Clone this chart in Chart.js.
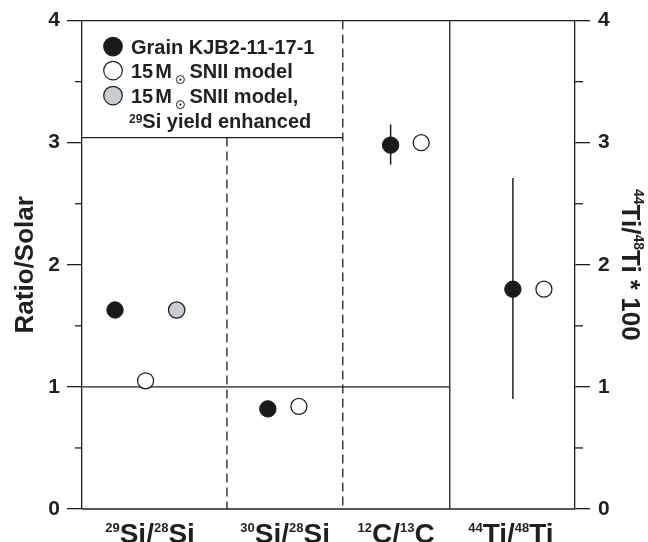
<!DOCTYPE html>
<html lang="en">
<head>
<meta charset="utf-8">
<title>Grain KJB2-11-17-1 ratios</title>
<style>
  html, body { margin: 0; padding: 0; background: #fff; }
  #wrap { width: 648px; height: 542px; }
</style>
</head>
<body>
<div id="wrap"><canvas id="myChart" width="648" height="542"></canvas></div>
<script src="https://cdn.jsdelivr.net/npm/chart.js"></script>
<script>
// values (ratio / solar; Ti panel is 44Ti/48Ti * 100)
const categories = ['29Si/28Si', '30Si/28Si', '12C/13C', '44Ti/48Ti'];
const grainRatio = [1.63, 0.82, 2.98, 1.80];
const grainErrLow = [null, null, 2.82, 0.90];
const grainErrHigh = [null, null, 3.15, 2.71];
const modelRatio = [1.05, 0.84, 3.00, 1.80];
const enhancedRatio = [1.63, null, null, null];
const yTicks = [0, 1, 2, 3, 4];

// where things sit across the plot (x runs 0..100)
const slot = {
  edges: [29.4, 52.9, 74.6],
  dashed: [true, true, false],
  grain: [6.7, 37.7, 62.6, 87.4],
  model: [12.9, 44.0, 68.8, 93.7],
  enhanced: [19.2, null, null, null],
  label: [13.8, 41.2, 63.7, 87.0]
};

const ink = '#231f20';
const fam = '"Liberation Sans", Arial, Helvetica, sans-serif';
const tickFont = { family: fam, size: 21, weight: 'bold' };

const pts = (xs, ys) => ys.map((v, i) => v == null ? null : { x: xs[i], y: v }).filter(Boolean);

// '29Si/28Si' -> superscript mass numbers
function parseRuns(str) {
  return str.split(/(\d+(?=[A-Z]))/).map((t, i) => ({ t, sup: i % 2 === 1 })).filter(r => r.t);
}

function drawRuns(ctx, runs, x, y, mainFont, supFont, rise, align) {
  let w = 0;
  runs.forEach(r => { ctx.font = r.sup ? supFont : mainFont; w += ctx.measureText(r.t).width; });
  let cx = align === 'center' ? x - w / 2 : x;
  ctx.textAlign = 'left';
  ctx.textBaseline = 'alphabetic';
  runs.forEach(r => {
    ctx.font = r.sup ? supFont : mainFont;
    ctx.fillText(r.t, cx, r.sup ? y - rise : y);
    cx += ctx.measureText(r.t).width;
  });
}

function line(ctx, x1, y1, x2, y2) {
  ctx.beginPath();
  ctx.moveTo(x1, y1);
  ctx.lineTo(x2, y2);
  ctx.stroke();
}

function solarSymbol(ctx, cx, cy) {
  ctx.save();
  ctx.lineWidth = 1;
  ctx.beginPath();
  ctx.arc(cx, cy, 4, 0, Math.PI * 2);
  ctx.stroke();
  ctx.beginPath();
  ctx.arc(cx, cy, 1.1, 0, Math.PI * 2);
  ctx.fill();
  ctx.restore();
}

const figurePlugin = {
  id: 'figure',
  beforeDatasetsDraw(chart) {
    const ctx = chart.ctx;
    const a = chart.chartArea;
    const xs = chart.scales.x;
    const ys = chart.scales.y;
    const boxR = xs.getPixelForValue(slot.edges[1]);
    const boxB = a.top + 117;

    ctx.save();
    ctx.strokeStyle = ink;
    ctx.fillStyle = ink;
    ctx.lineWidth = 1.3;

    // top and bottom frame
    line(ctx, a.left, a.top, a.right, a.top);
    line(ctx, a.left, a.bottom, a.right, a.bottom);

    // panel separators
    slot.edges.forEach((e, i) => {
      const px = xs.getPixelForValue(e);
      ctx.setLineDash(slot.dashed[i] ? [9, 5] : []);
      line(ctx, px, i === 0 ? boxB : a.top, px, a.bottom);
    });
    ctx.setLineDash([]);

    // ratio = 1 reference, stops at the Ti panel
    const y1 = ys.getPixelForValue(1);
    line(ctx, a.left, y1, xs.getPixelForValue(slot.edges[2]), y1);

    // minor ticks on both axes
    for (let i = 0; i < yTicks.length - 1; i++) {
      const py = ys.getPixelForValue((yTicks[i] + yTicks[i + 1]) / 2);
      line(ctx, a.left - 7, py, a.left, py);
      line(ctx, a.right, py, a.right + 8, py);
    }

    // legend box
    line(ctx, a.left, boxB, boxR, boxB);
    const cx = a.left + 31;
    const tx = a.left + 49;
    const base = [a.top + 33, a.top + 57, a.top + 82, a.top + 107];
    const fills = ['#1a1a1a', '#ffffff', '#c9ccd3'];
    fills.forEach((f, i) => {
      ctx.beginPath();
      ctx.arc(cx, base[i] - 7, 9.3, 0, Math.PI * 2);
      ctx.fillStyle = f;
      ctx.fill();
      ctx.lineWidth = 1.2;
      ctx.stroke();
    });
    ctx.fillStyle = ink;
    ctx.textAlign = 'left';
    ctx.textBaseline = 'alphabetic';
    const lf = 'bold 20px ' + fam;
    ctx.font = lf;
    ctx.fillText('Grain KJB2-11-17-1', tx, base[0]);
    [[base[1], 'SNII model'], [base[2], 'SNII model,']].forEach(([by, rest]) => {
      ctx.font = lf;
      ctx.fillText('15', tx, by);
      const mx = tx + ctx.measureText('15').width + 2;
      ctx.fillText('M', mx, by);
      const sx = mx + ctx.measureText('M').width + 8.5;
      solarSymbol(ctx, sx, by + 2);
      ctx.fillText(rest, sx + 9, by);
    });
    drawRuns(ctx, parseRuns('29Si yield enhanced'), tx - 2, base[3], lf, 'bold 12px ' + fam, 5, 'left');

    // error bars on the grain measurements
    ctx.lineWidth = 1.5;
    grainErrLow.forEach((lo, i) => {
      if (lo == null) return;
      const px = xs.getPixelForValue(slot.grain[i]);
      line(ctx, px, ys.getPixelForValue(lo), px, ys.getPixelForValue(grainErrHigh[i]));
    });
    ctx.restore();
  },
  afterDraw(chart) {
    const ctx = chart.ctx;
    const a = chart.chartArea;
    const xs = chart.scales.x;
    const midY = (a.top + a.bottom) / 2;
    ctx.save();
    ctx.fillStyle = ink;

    // category labels under each panel
    categories.forEach((c, i) => {
      drawRuns(ctx, parseRuns(c), xs.getPixelForValue(slot.label[i]), 543,
        'bold 28px ' + fam, 'bold 13px ' + fam, 11.5, 'center');
    });

    // left axis title
    ctx.save();
    ctx.translate(33, midY);
    ctx.rotate(-Math.PI / 2);
    drawRuns(ctx, parseRuns('Ratio/Solar'), 0, 0, 'bold 26px ' + fam, 'bold 14px ' + fam, 12, 'center');
    ctx.restore();

    // right axis title
    ctx.save();
    ctx.translate(622, midY);
    ctx.rotate(Math.PI / 2);
    drawRuns(ctx, parseRuns('44Ti/48Ti * 100'), 0, 0, 'bold 26px ' + fam, 'bold 14px ' + fam, 12, 'center');
    ctx.restore();

    ctx.restore();
  }
};

function yScale(pos, width, pad) {
  return {
    position: pos,
    min: 0,
    max: 4,
    afterFit: s => { s.width = width; },
    afterBuildTicks: s => { s.ticks = yTicks.map(v => ({ value: v })); },
    ticks: { font: tickFont, color: ink, padding: pad },
    grid: { drawOnChartArea: false, tickLength: 15, color: ink, lineWidth: 1.3 },
    border: { color: ink, width: 1.3 }
  };
}

const ctx = document.getElementById('myChart').getContext('2d');
const myChart = new Chart(ctx, {
  type: 'scatter',
  data: {
    datasets: [
      {
        label: 'Grain KJB2-11-17-1',
        data: pts(slot.grain, grainRatio),
        backgroundColor: '#1a1a1a',
        borderColor: '#1a1a1a',
        borderWidth: 1,
        pointRadius: 8.2
      },
      {
        label: '15 M\u2299 SNII model',
        data: pts(slot.model, modelRatio),
        backgroundColor: '#ffffff',
        borderColor: ink,
        borderWidth: 1.3,
        pointRadius: 8
      },
      {
        label: '15 M\u2299 SNII model, 29Si yield enhanced',
        data: pts(slot.enhanced, enhancedRatio),
        backgroundColor: '#c9ccd3',
        borderColor: ink,
        borderWidth: 1.3,
        pointRadius: 8.2
      }
    ]
  },
  options: {
    responsive: false,
    animation: false,
    events: [],
    layout: { padding: { top: 20, bottom: 33, left: 0, right: 0 } },
    plugins: { legend: { display: false }, tooltip: { enabled: false } },
    scales: {
      x: { type: 'linear', min: 0, max: 100, display: false },
      y: yScale('left', 82, 7),
      y2: yScale('right', 73, 8)
    }
  },
  plugins: [figurePlugin]
});
</script>
</body>
</html>
